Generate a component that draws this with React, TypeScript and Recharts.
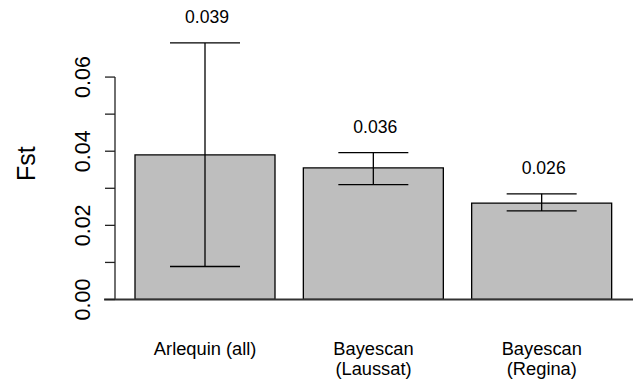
import React from 'react';
import { BarChart, Bar, XAxis, YAxis, ErrorBar, LabelList, ReferenceLine, Label } from 'recharts';

const categories = ['Arlequin (all)', 'Bayescan\n(Laussat)', 'Bayescan\n(Regina)'];
const fstValues = [0.039, 0.0355, 0.026];
const lowerValues = [0.0089, 0.031, 0.0239];
const upperValues = [0.0692, 0.0396, 0.0285];
const valueLabels = ['0.039', '0.036', '0.026'];
const yTicks = [0, 0.01, 0.02, 0.03, 0.04, 0.05, 0.06];
const yTickLabels = ['0.00', '', '0.02', '', '0.04', '', '0.06'];
const yTitle = 'Fst';

const data = categories.map((name, i) => ({
  name,
  fst: fstValues[i],
  err: [fstValues[i] - lowerValues[i], upperValues[i] - fstValues[i]],
  label: valueLabels[i],
  upper: upperValues[i],
}));

const FONT = '"Liberation Sans", Arial, Helvetica, sans-serif';

const YTick = (props: any) => {
  const { x, y, index } = props;
  const label = yTickLabels[index] ?? '';
  if (!label) return <g />;
  return (
    <text
      x={x}
      y={y}
      textAnchor="middle"
      transform={`rotate(-90, ${x}, ${y})`}
      fontFamily={FONT}
      fontSize={21.5}
      fill="#000"
    >
      {label}
    </text>
  );
};

const XTick = (props: any) => {
  const { x, y, payload } = props;
  const lines = String(payload.value).split('\n');
  return (
    <text x={x} y={y} textAnchor="middle" fontFamily={FONT} fontSize={18.3} fill="#000">
      {lines.map((l, i) => (
        <tspan key={i} x={x} dy={i === 0 ? 49 : 20}>
          {l}
        </tspan>
      ))}
    </text>
  );
};

const ValueLabel = (props: any) => {
  const { x, y, width, height, index } = props;
  const d = data[index];
  const pxPerUnit = height / d.fst;
  const errTop = y - (d.upper - d.fst) * pxPerUnit;
  return (
    <text
      x={x + width / 2 + 2}
      y={errTop - 26}
      textAnchor="middle"
      dominantBaseline="central"
      fontFamily={FONT}
      fontSize={17.6}
      fill="#000"
    >
      {d.label}
    </text>
  );
};

const YTitle = (props: any) => {
  const vb = props.viewBox || {};
  const cx = (vb.x ?? 0) + 35;
  const cy = (vb.y ?? 40) + (vb.height ?? 260) / 2 - 6;
  return (
    <text
      x={cx}
      y={cy}
      textAnchor="middle"
      transform={`rotate(-90, ${cx}, ${cy})`}
      fontFamily={FONT}
      fontSize={25}
      fill="#000"
    >
      {yTitle}
    </text>
  );
};

const BaseLine = (props: any) => {
  const { x1, y1, x2, y2 } = props;
  return <line x1={x1 - 11} y1={y1} x2={x2 + 2} y2={y2} stroke="#333" strokeWidth={2} />;
};

export default function App() {
  return (
    <div style={{ position: 'absolute', left: 0, top: 0, width: 633, height: 383, background: '#fff' }}>
      <BarChart
        width={633}
        height={383}
        data={data}
        margin={{ top: 40, right: 2, bottom: 23.5, left: 0 }}
        barCategoryGap={0}
      >
        <XAxis
          dataKey="name"
          xAxisId="cat"
          axisLine={false}
          tickLine={false}
          tick={<XTick />}
          interval={0}
          height={60}
          tickSize={6}
          tickMargin={0}
          padding={{ left: 6, right: 5 }}
        />
        <XAxis xAxisId="num" type="number" domain={[0, 1]} hide allowDataOverflow />
        <YAxis
          type="number"
          domain={[0, 0.07]}
          ticks={yTicks}
          interval={0}
          width={115}
          axisLine={false}
          tickLine={{ stroke: '#222', strokeWidth: 1.3 }}
          tickSize={10}
          tickMargin={15}
          tick={<YTick />}
          allowDataOverflow
        >
          <Label content={<YTitle />} />
        </YAxis>
        <ReferenceLine
          xAxisId="num"
          segment={[
            { x: 0, y: 0 },
            { x: 0, y: 0.06 },
          ]}
          stroke="#222"
          strokeWidth={1.3}
          ifOverflow="visible"
        />
        <Bar
          xAxisId="cat"
          dataKey="fst"
          fill="#bebebe"
          stroke="#000"
          strokeWidth={1.3}
          barSize={140}
          isAnimationActive={false}
        >
          <ErrorBar dataKey="err" width={35} stroke="#000" strokeWidth={1.3} direction="y" />
          <LabelList dataKey="fst" content={<ValueLabel />} />
        </Bar>
        <ReferenceLine xAxisId="cat" y={0} shape={<BaseLine />} ifOverflow="visible" />
      </BarChart>
    </div>
  );
}
